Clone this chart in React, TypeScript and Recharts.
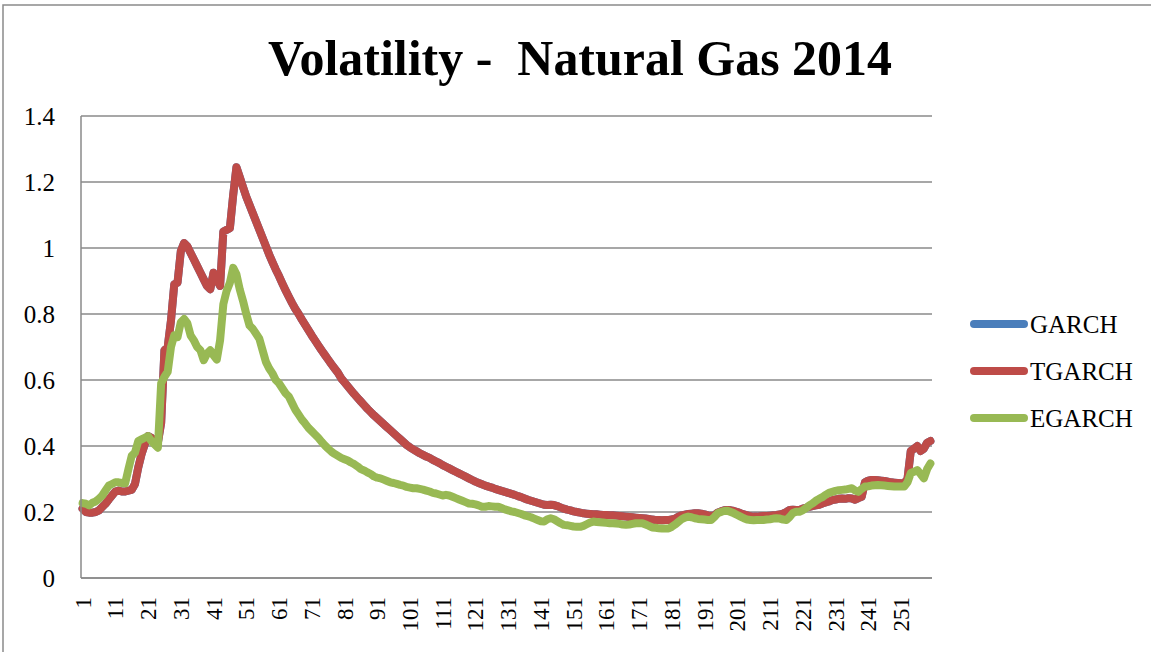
import { LineChart, Line, XAxis, YAxis, CartesianGrid } from 'recharts';

// trading days 1..260
const categories = Array.from({ length: 260 }, (_, i) => i + 1);

const tgarch = [
  0.21, 0.2, 0.198, 0.198, 0.2, 0.205, 0.215, 0.225, 0.238, 0.25,
  0.262, 0.265, 0.262, 0.262, 0.265, 0.267, 0.285, 0.335, 0.375, 0.405,
  0.43, 0.425, 0.415, 0.41, 0.47, 0.69, 0.7, 0.78, 0.89, 0.895,
  0.99, 1.015, 1.005, 0.985, 0.965, 0.945, 0.925, 0.905, 0.885, 0.875,
  0.925, 0.905, 0.885, 1.05, 1.055, 1.06, 1.16, 1.245, 1.215, 1.185,
  1.155, 1.13, 1.105, 1.08, 1.055, 1.03, 1.005, 0.98, 0.957, 0.935,
  0.915, 0.893, 0.872, 0.852, 0.833, 0.815, 0.8, 0.783, 0.767, 0.751,
  0.735, 0.72, 0.705, 0.69, 0.676, 0.662, 0.648, 0.635, 0.622, 0.605,
  0.593, 0.581, 0.569, 0.557, 0.546, 0.535, 0.524, 0.513, 0.503, 0.493,
  0.484, 0.475, 0.466, 0.457, 0.448, 0.439, 0.43, 0.421, 0.412, 0.403,
  0.396, 0.39, 0.384, 0.378, 0.373, 0.368, 0.364, 0.358, 0.353, 0.348,
  0.342, 0.337, 0.332, 0.327, 0.322, 0.317, 0.312, 0.307, 0.302, 0.297,
  0.292, 0.288, 0.284, 0.28, 0.277, 0.274, 0.27, 0.267, 0.264, 0.261,
  0.258, 0.255, 0.252, 0.248, 0.245, 0.241, 0.237, 0.234, 0.231, 0.228,
  0.225, 0.222, 0.221, 0.222, 0.221, 0.218, 0.214, 0.21, 0.207, 0.205,
  0.202, 0.2, 0.198, 0.196, 0.195, 0.194, 0.193, 0.193, 0.192, 0.191,
  0.191, 0.19, 0.19, 0.189, 0.188, 0.187, 0.186, 0.185, 0.184, 0.183,
  0.182, 0.181, 0.18, 0.179, 0.177, 0.176, 0.176, 0.175, 0.176, 0.176,
  0.177, 0.18, 0.186, 0.19, 0.192, 0.194, 0.195, 0.196, 0.196, 0.195,
  0.193, 0.19, 0.188, 0.19, 0.198, 0.202, 0.205, 0.206, 0.205, 0.203,
  0.2, 0.196, 0.193, 0.19, 0.187, 0.186, 0.186, 0.187, 0.188, 0.188,
  0.189, 0.19, 0.191, 0.193, 0.195, 0.2, 0.206, 0.207, 0.206, 0.206,
  0.21, 0.213, 0.216, 0.218, 0.22, 0.222, 0.226, 0.229, 0.232, 0.236,
  0.238, 0.24, 0.241, 0.24, 0.242, 0.241, 0.237, 0.242, 0.246, 0.29,
  0.295, 0.297, 0.297, 0.296, 0.295, 0.294, 0.292, 0.29, 0.289, 0.288,
  0.287, 0.288, 0.3, 0.385, 0.392, 0.4, 0.385, 0.392, 0.41, 0.415,
];

const egarch = [
  0.227, 0.225, 0.22, 0.228, 0.232, 0.24, 0.25, 0.265, 0.28, 0.285,
  0.29, 0.29, 0.288, 0.287, 0.33, 0.37, 0.38, 0.415, 0.42, 0.425,
  0.43, 0.415, 0.405, 0.395, 0.59, 0.61, 0.625, 0.7, 0.735, 0.73,
  0.775, 0.785, 0.772, 0.735, 0.72, 0.7, 0.69, 0.66, 0.68, 0.69,
  0.675, 0.662, 0.72, 0.83, 0.87, 0.895, 0.94, 0.92, 0.875, 0.84,
  0.8, 0.765, 0.755, 0.74, 0.725, 0.69, 0.655, 0.635, 0.62, 0.6,
  0.59, 0.575, 0.56, 0.55, 0.53, 0.51, 0.495, 0.48, 0.468, 0.455,
  0.445, 0.435, 0.425, 0.413, 0.402, 0.392, 0.383, 0.376, 0.37, 0.364,
  0.36, 0.356, 0.35, 0.345, 0.338, 0.33, 0.326, 0.32, 0.315, 0.308,
  0.304, 0.302, 0.298, 0.294, 0.29, 0.288, 0.285, 0.282, 0.28, 0.276,
  0.274, 0.272, 0.272, 0.27, 0.268, 0.265, 0.262, 0.258, 0.256, 0.253,
  0.25, 0.252, 0.25, 0.246, 0.242, 0.238, 0.234, 0.23, 0.226, 0.225,
  0.223, 0.22, 0.216, 0.216, 0.218, 0.217, 0.216, 0.216, 0.212, 0.208,
  0.205, 0.202, 0.2, 0.197, 0.194, 0.19, 0.187, 0.184, 0.18, 0.176,
  0.172, 0.171, 0.178, 0.181, 0.178, 0.172, 0.166, 0.161, 0.16, 0.158,
  0.156, 0.155, 0.155, 0.158, 0.163, 0.168, 0.171, 0.17, 0.169, 0.168,
  0.167, 0.166, 0.166, 0.165, 0.164, 0.162, 0.161, 0.162, 0.164, 0.166,
  0.166, 0.166, 0.162, 0.158, 0.153, 0.152, 0.151, 0.15, 0.15, 0.15,
  0.155, 0.162, 0.17, 0.178, 0.183, 0.186, 0.184, 0.181, 0.179, 0.178,
  0.177, 0.176, 0.176, 0.185, 0.196, 0.2, 0.203, 0.204, 0.2, 0.196,
  0.191, 0.186, 0.181, 0.177, 0.176, 0.175, 0.176, 0.176, 0.176, 0.177,
  0.178, 0.18, 0.181, 0.18, 0.177, 0.176, 0.185, 0.197, 0.201, 0.201,
  0.205, 0.212, 0.22, 0.226, 0.234, 0.24, 0.245, 0.252, 0.258, 0.261,
  0.264, 0.266, 0.267, 0.268, 0.27, 0.272, 0.265, 0.261, 0.27, 0.277,
  0.278, 0.28, 0.281, 0.282, 0.281, 0.28, 0.279, 0.278, 0.277, 0.277,
  0.277, 0.277, 0.29, 0.318, 0.322, 0.327, 0.315, 0.302, 0.33, 0.347,
];

// GARCH is not visible in the picture: it lies right under TGARCH
const garch = tgarch;

const yTicks = [0, 0.2, 0.4, 0.6, 0.8, 1, 1.2, 1.4];

const series = [
  { key: 'GARCH', values: garch, color: '#4A7EBB' },
  { key: 'TGARCH', values: tgarch, color: '#BE4B48' },
  { key: 'EGARCH', values: egarch, color: '#98B954' },
];

const data = categories.map((day, i) => {
  const row: any = { day };
  series.forEach((s) => {
    row[s.key] = s.values[i];
  });
  return row;
});

const FONT = '"Liberation Serif", "DejaVu Serif", serif';
const GRID = '#8a8a8a';

const XTick = ({ x, y, payload }: any) => (
  <text
    x={x}
    y={y}
    transform={`rotate(-90, ${x}, ${y})`}
    textAnchor="end"
    dy="0.35em"
    fontFamily={FONT}
    fontSize={23}
    fill="#000"
  >
    {payload.value}
  </text>
);

export default function App() {
  return (
    <div style={{ position: 'absolute', left: 0, top: 0, width: 1151, height: 652, background: '#fff' }}>
      <LineChart
        width={1151}
        height={652}
        data={data}
        margin={{ top: 116, right: 219, bottom: 0, left: 0 }}
      >
        <CartesianGrid horizontal vertical={false} stroke={GRID} strokeWidth={1.5} />
        <XAxis
          dataKey="day"
          interval={9}
          height={74}
          padding={{ left: 1.6, right: 1.6 }}
          tickSize={0}
          tickMargin={19}
          tick={<XTick />}
          axisLine={{ stroke: GRID, strokeWidth: 1.5 }}
          tickLine={false}
        />
        <YAxis
          width={81}
          domain={[0, 1.4]}
          ticks={yTicks}
          tickSize={0}
          tickMargin={26}
          axisLine={{ stroke: GRID, strokeWidth: 1.5 }}
          tickLine={false}
          tick={{ fontFamily: FONT, fontSize: 25, fill: '#000' }}
        />
        {series.map((s) => (
          <Line
            key={s.key}
            dataKey={s.key}
            type="linear"
            stroke={s.color}
            strokeWidth={8}
            strokeLinejoin="round"
            strokeLinecap="round"
            dot={false}
            activeDot={false}
            isAnimationActive={false}
          />
        ))}
      </LineChart>

      <svg
        width={1151}
        height={652}
        style={{ position: 'absolute', left: 0, top: 0, pointerEvents: 'none' }}
      >
        <rect x={3} y={5} width={1200} height={700} fill="none" stroke={GRID} strokeWidth={1.5} />
        <text
          x={580}
          y={75}
          textAnchor="middle"
          fontFamily={FONT}
          fontWeight="bold"
          fontSize={50}
          textLength={624}
          lengthAdjust="spacingAndGlyphs"
          fill="#000"
          style={{ whiteSpace: 'pre' }}
        >
          {'Volatility -  Natural Gas 2014'}
        </text>
        {series.map((s, i) => (
          <g key={s.key}>
            <line
              x1={974}
              x2={1024}
              y1={324 + i * 47}
              y2={324 + i * 47}
              stroke={s.color}
              strokeWidth={8}
              strokeLinecap="round"
            />
            <text
              x={1030}
              y={324 + i * 47}
              dy="0.35em"
              fontFamily={FONT}
              fontSize={25}
              fill="#000"
            >
              {s.key}
            </text>
          </g>
        ))}
      </svg>
    </div>
  );
}
